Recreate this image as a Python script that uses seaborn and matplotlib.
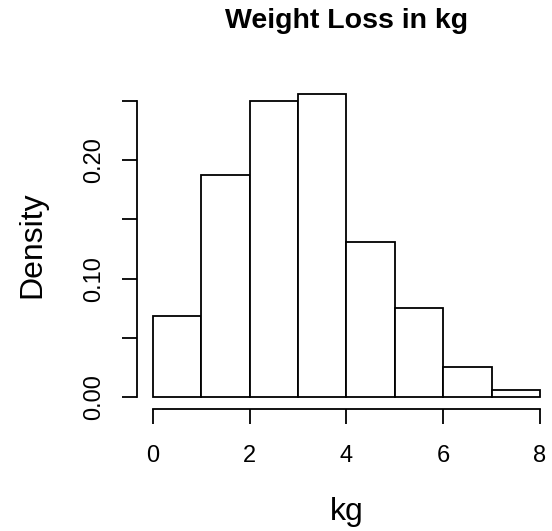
import numpy as np
import pandas as pd
import matplotlib
matplotlib.use("Agg")
import matplotlib.pyplot as plt
import seaborn as sns

# Data
bin_edges = [0, 1, 2, 3, 4, 5, 6, 7, 8]
densities = [0.0687, 0.1872, 0.2497, 0.2559, 0.1312, 0.0749, 0.0251, 0.0062]
x_ticks = [0, 2, 4, 6, 8]
x_tick_labels = ["0", "2", "4", "6", "8"]
y_ticks = [0.00, 0.05, 0.10, 0.15, 0.20, 0.25]
y_tick_labels = ["0.00", "", "0.10", "", "0.20", ""]

centers = [(a + b) / 2 for a, b in zip(bin_edges[:-1], bin_edges[1:])]
df = pd.DataFrame({"kg": centers, "density": densities})

sns.set_style("ticks")
plt.rcParams["font.family"] = ["Liberation Sans", "DejaVu Sans"]
plt.rcParams["text.color"] = "black"
plt.rcParams["axes.labelcolor"] = "black"
plt.rcParams["xtick.color"] = "black"
plt.rcParams["ytick.color"] = "black"

W, H = 552, 531
fig = plt.figure(figsize=(W / 100, H / 100), dpi=100)
left_px, right_px, top_px, bottom_px = 137.2, 555.5, 81.8, 409.1
ax = fig.add_axes([left_px / W, 1 - bottom_px / H,
                   (right_px - left_px) / W, (bottom_px - top_px) / H])

sns.histplot(data=df, x="kg", weights="density", bins=bin_edges, stat="count",
             ax=ax, color="white", edgecolor="black", linewidth=1.3,
             alpha=1, fill=True)

ax.set_xlim(-0.32, 8.32)
ax.set_ylim(-0.01024, 0.2662)
ax.set_xticks(x_ticks)
ax.set_xticklabels(x_tick_labels)
ax.set_yticks(y_ticks)
ax.set_yticklabels(y_tick_labels, rotation=90, va="center")

for s in ["top", "right"]:
    ax.spines[s].set_visible(False)
ax.spines["left"].set_bounds(0, 0.25)
ax.spines["bottom"].set_bounds(0, 8)
for s in ["left", "bottom"]:
    ax.spines[s].set_linewidth(1.3)
    ax.spines[s].set_color("black")

ax.tick_params(axis="both", length=10.8, width=1.3, color="black",
               labelsize=17, labelcolor="black")
ax.tick_params(axis="x", pad=15)
ax.tick_params(axis="y", pad=12.5)
ax.set_xlabel("")
ax.set_ylabel("")
ax.set_facecolor("white")
fig.patch.set_facecolor("white")

fig.text(346.5 / W, 1 - 28.3 / H, "Weight Loss in kg", ha="center",
         va="baseline", fontsize=20.5, fontweight="bold", color="black")
fig.text(32 / W, 1 - 245 / H, "Density", rotation=90, ha="center",
         va="center", fontsize=23, color="black")
fig.text(347 / W, 1 - 520 / H, "kg", ha="center", va="baseline",
         fontsize=23, color="black")

fig.savefig("out.png", dpi=100)
